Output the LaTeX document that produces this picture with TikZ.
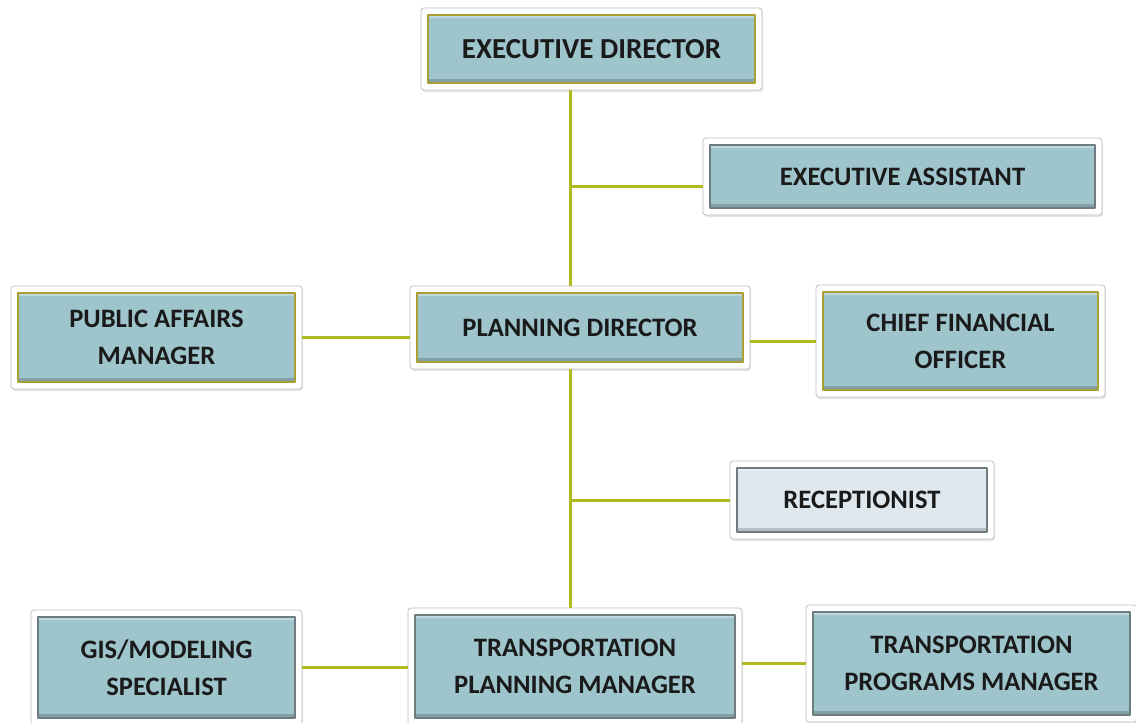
\documentclass[tikz,border=0pt]{standalone}
\usepackage{fontspec}
\setmainfont{Carlito}
\usetikzlibrary{backgrounds,shadows}
\definecolor{boxblue}{RGB}{158,196,204}
\definecolor{paleblue}{RGB}{222,232,238}
\definecolor{olivebar}{RGB}{178,184,34}
\definecolor{oliveedge}{RGB}{168,160,50}
\definecolor{grayedge}{RGB}{110,124,128}
\definecolor{ink}{RGB}{26,26,26}

\begin{document}
\begin{tikzpicture}[line cap=round,line join=round,x=1pt,y=-1pt,
	post/.style={draw=grayedge,fill=boxblue,line width=1.2pt,inner sep=0pt,outer sep=7pt,
		text=ink,align=center,font=\fontsize{26.6}{37}\selectfont\bfseries,
		path picture={\fill[black,opacity=0.18] ([yshift=4pt]path picture bounding box.south west) rectangle (path picture bounding box.south east);
			\fill[white,opacity=0.35] (path picture bounding box.north west) rectangle ([yshift=-3pt]path picture bounding box.north east);}},
	keypost/.style={post,draw=oliveedge},
	frame/.style={draw=gray!50,fill=white,line width=0.8pt,rounded corners=3pt,
		drop shadow={opacity=0.2,shadow xshift=1pt,shadow yshift=-2pt}},
	link/.style={draw=olivebar,line width=3pt,line cap=butt}]
		\useasboundingbox (0,0) rectangle (1136,723);
		% boxes
		\node[keypost,minimum width=327pt,minimum height=68pt,font=\fontsize{29}{37}\selectfont\bfseries] (ed) at (591.5,49) {EXECUTIVE DIRECTOR};
		\node[post,minimum width=385pt,minimum height=63pt] (ea) at (902.5,176.5) {EXECUTIVE ASSISTANT};
		\node[keypost,minimum width=277pt,minimum height=89pt] (pa) at (156.5,337.5) {PUBLIC AFFAIRS\\MANAGER};
		\node[keypost,minimum width=326pt,minimum height=69pt] (pd) at (580,327.5) {PLANNING DIRECTOR};
		\node[keypost,minimum width=275pt,minimum height=98pt] (cfo) at (960.5,341) {CHIEF FINANCIAL\\OFFICER};
		\node[post,fill=paleblue,minimum width=250pt,minimum height=64pt] (rec) at (862,500) {RECEPTIONIST};
		\node[post,minimum width=257pt,minimum height=101pt] (gis) at (166.5,667.5) {GIS/MODELING\\SPECIALIST};
		\node[post,minimum width=320pt,minimum height=103pt] (tpm) at (575,666.5) {TRANSPORTATION\\PLANNING MANAGER};
		\node[post,minimum width=317pt,minimum height=103pt] (tppm) at (971.5,663.5) {TRANSPORTATION\\PROGRAMS MANAGER};
		\begin{scope}[on background layer]
			\foreach \n in {ed,ea,pa,pd,cfo,rec,gis,tpm,tppm}
				\draw[frame] (\n.north west) rectangle (\n.south east);
		\end{scope}
		% connectors
		\coordinate (spine) at (570,0);
		\coordinate (eajoin) at (570,186);
		\draw[link] (ed.south -| spine) -- (pd.north -| spine);
		\draw[link] (pd.south -| spine) -- (tpm.north -| spine);
		\draw[link] (eajoin) -- (eajoin -| ea.west);
		\draw[link] (spine |- rec) -- (rec.west);
		\draw[link] (pa.east) -- (pa.east -| pd.west);
		\draw[link] (cfo.west) -- (cfo.west -| pd.east);
		\draw[link] (gis.east) -- (gis.east -| tpm.west);
		\draw[link] (tppm.west) -- (tppm.west -| tpm.east);
	\end{tikzpicture}
\end{document}
